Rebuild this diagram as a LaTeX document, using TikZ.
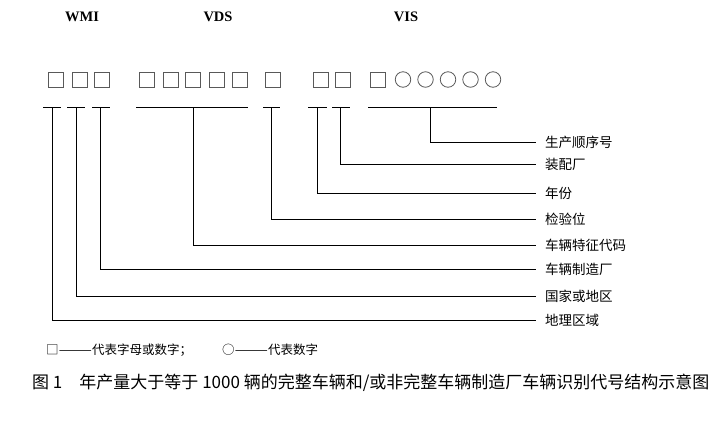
\documentclass[tikz,border=0pt]{standalone}
\usepackage{fontspec}
\usepackage{graphicx}
\setmainfont{Liberation Serif}
\newfontfamily\cjk{Noto Sans CJK SC}
\newcommand{\longdash}{\scalebox{1.6}[1]{——}}
\begin{document}
\begin{tikzpicture}[x=1pt,y=-1pt,
  cell/.style={draw=black!65,line width=0.8pt,minimum size=15pt,inner sep=0pt,anchor=north west},
  ring/.style={draw=black!65,line width=0.8pt,circle,minimum size=15.5pt,inner sep=0pt},
  part/.style={font=\bfseries\fontsize{14.5}{16}\selectfont},
  lab/.style={font=\cjk\fontsize{13.5}{15}\selectfont,anchor=west,inner sep=0pt},
  conn/.style={line width=1pt,black,shorten >=9pt},
  bar/.style={line width=1pt,black},
  note/.style={font=\cjk\fontsize{12.5}{14}\selectfont,anchor=west,inner sep=0pt}]
\useasboundingbox (0,0) rectangle (727,421);
% group names
\node[part] (wmi) at (82,17) {WMI};
\node[part] (vds) at (218,17) {VDS};
\node[part] (vis) at (406,17) {VIS};
% character cells
\foreach \x [count=\i] in {48,72,94,139,163,185,209,232,265,313,335,370}
  \node[cell] (c\i) at (\x,72) {};
\foreach \x [count=\i] in {403,425.5,448,470.5,493}
  \node[ring] (o\i) at (\x,79.5) {};
% bars and stem tops
\coordinate (s1) at (52,107);  \draw[bar] (43,107) -- (61,107);
\coordinate (s2) at (76,107);  \draw[bar] (67,107) -- (85,107);
\coordinate (s3) at (100,107); \draw[bar] (92,107) -- (110,107);
\coordinate (s4) at (193,107); \draw[bar] (136,107) -- (248,107);
\coordinate (s5) at (271,107); \draw[bar] (263,107) -- (280,107);
\coordinate (s6) at (317,107); \draw[bar] (308,107) -- (327,107);
\coordinate (s7) at (340,107); \draw[bar] (332,107) -- (350,107);
\coordinate (s8) at (430,107); \draw[bar] (368,107) -- (497,107);
% labels
\node[lab] (l8) at (545,142) {生产顺序号};
\node[lab] (l7) at (545,164) {装配厂};
\node[lab] (l6) at (545,193) {年份};
\node[lab] (l5) at (545,219) {检验位};
\node[lab] (l4) at (545,245) {车辆特征代码};
\node[lab] (l3) at (545,269) {车辆制造厂};
\node[lab] (l2) at (545,296) {国家或地区};
\node[lab] (l1) at (545,320) {地理区域};
% connectors
\foreach \i in {1,...,8}
  \draw[conn] (s\i) |- (l\i.west);
% legend
\node[note] (legend1) at (46,350) {□\longdash 代表字母或数字；};
\node[note] (legend2) at (222,350) {○\longdash 代表数字};
% caption
\node[font=\cjk\fontsize{17}{19}\selectfont,anchor=west,inner sep=0pt] (caption) at (32,383)
  {图 1\hspace{17pt}年产量大于等于 1000 辆的完整车辆和/或非完整车辆制造厂车辆识别代号结构示意图};
\end{tikzpicture}
\end{document}
